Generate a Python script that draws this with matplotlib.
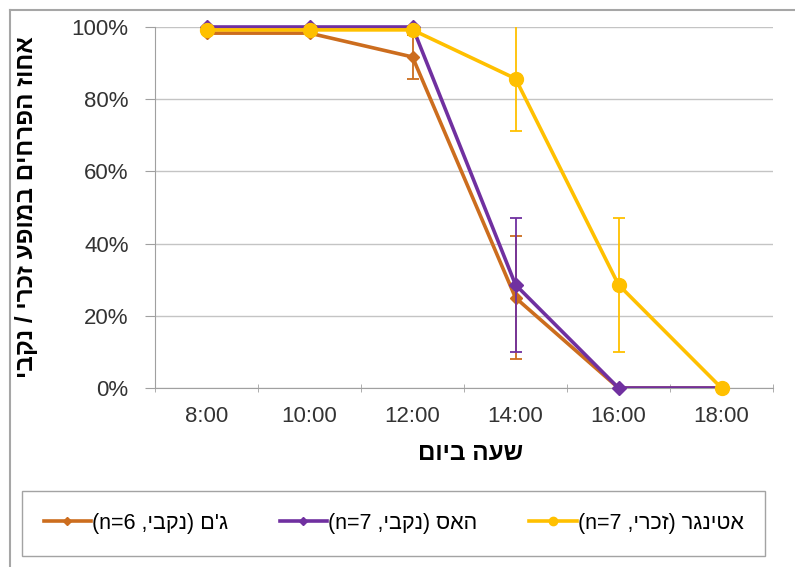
import matplotlib
matplotlib.use("Agg")
import matplotlib.pyplot as plt
from matplotlib.patches import Rectangle
import numpy as np

plt.rcParams['font.family'] = ['Liberation Sans', 'DejaVu Sans']

# Daten (Hebräisch in visueller Reihenfolge, da matplotlib kein RTL kennt)
hours = ['8:00', '10:00', '12:00', '14:00', '16:00', '18:00']

gam = [0.983, 0.983, 0.917, 0.25, 0.0, 0.0]
gam_err = [0.0, 0.0, 0.06, 0.17, 0.0, 0.0]

haas = [1.0, 1.0, 1.0, 0.286, 0.0, 0.0]
haas_err = [0.0, 0.0, 0.0, 0.185, 0.0, 0.0]

ettinger = [0.992, 0.992, 0.992, 0.857, 0.286, 0.0]
ettinger_err = [0.0, 0.0, 0.0, 0.145, 0.185, 0.0]

labels = ["(n=6 ,יבקנ) ם'ג", "(n=7 ,יבקנ) סאה", "(n=7 ,ירכז) רגניטא"]
colors = ['#CC6D1E', '#7030A0', '#FFC000']
markers = ['D', 'D', 'o']
msizes = [6.5, 7, 10]

xlabel = "םויב העש"
ylabel = "יבקנ / ירכז עפומב םיחרפה זוחא"

fig = plt.figure(figsize=(7.95, 5.67), dpi=100)
ax = fig.add_axes([155/795, 1-388/567, (773-155)/795, (388-27)/567])

x = np.arange(len(hours))
clip = Rectangle((-0.5, 0), 6, 1.2, transform=ax.transData)

series = [(gam, gam_err), (haas, haas_err), (ettinger, ettinger_err)]
handles = []
for i, (vals, err) in enumerate(series):
    c = colors[i]
    ax.errorbar(x, vals, yerr=err, fmt='none', ecolor=c, elinewidth=1.3,
                capsize=4, capthick=1.3, zorder=3 + i)
    ln, = ax.plot(x, vals, color=c, lw=2.6, zorder=3 + i)
    ln.set_clip_path(clip)
    ax.plot(x, vals, linestyle='none', marker=markers[i], ms=msizes[i],
            color=c, clip_on=False, zorder=3 + i)
    h, = ax.plot([], [], color=c, lw=2.6, marker=markers[i], ms=msizes[i] * 0.6)
    handles.append(h)

ax.set_xlim(-0.5, 5.5)
ax.set_ylim(0, 1.0)
ax.set_xticks(x)
ax.set_xticklabels(hours)
ax.set_xticks(np.arange(-0.5, 6, 1), minor=True)
ax.tick_params(axis='x', which='major', length=0, pad=13, labelsize=16, labelcolor='#333333')
ax.tick_params(axis='x', which='minor', length=6, color='#a0a0a0', direction='inout')

ax.set_yticks(np.arange(0, 1.01, 0.2))
ax.set_yticklabels([f'{int(round(v*100))}%' for v in np.arange(0, 1.01, 0.2)])
ax.tick_params(axis='y', length=7, color='#a0a0a0', pad=12, labelsize=16, labelcolor='#333333')

ax.grid(axis='y', color='#c4c4c4', lw=1)
ax.set_axisbelow(True)
for s in ['top', 'right']:
    ax.spines[s].set_visible(False)
for s in ['left', 'bottom']:
    ax.spines[s].set_color('#a0a0a0')

ax.set_xlabel(xlabel, fontsize=17.5, fontweight='bold')
ax.xaxis.set_label_coords(0.51, -0.15)
ax.set_ylabel(ylabel, fontsize=17.5, fontweight='bold')
ax.yaxis.set_label_coords(-0.19, 0.5)

fig.legend(handles, labels, loc='center', ncol=3, mode='expand',
           bbox_to_anchor=(22/795, 1-560/567, (765-22)/795, (560-487)/567),
           fontsize=15.5, frameon=True, fancybox=False, edgecolor='#8c8c8c',
           handlelength=2.2, handletextpad=0.05, borderpad=1.0, borderaxespad=0)

# Rahmen des Diagrammbereichs
fig.add_artist(plt.Line2D([10/795, 10/795], [0, 1-10/567], color='#a6a6a6', lw=1.5))
fig.add_artist(plt.Line2D([10/795, 1], [1-10/567, 1-10/567], color='#a6a6a6', lw=1.5))

fig.savefig('out.png', dpi=100)
